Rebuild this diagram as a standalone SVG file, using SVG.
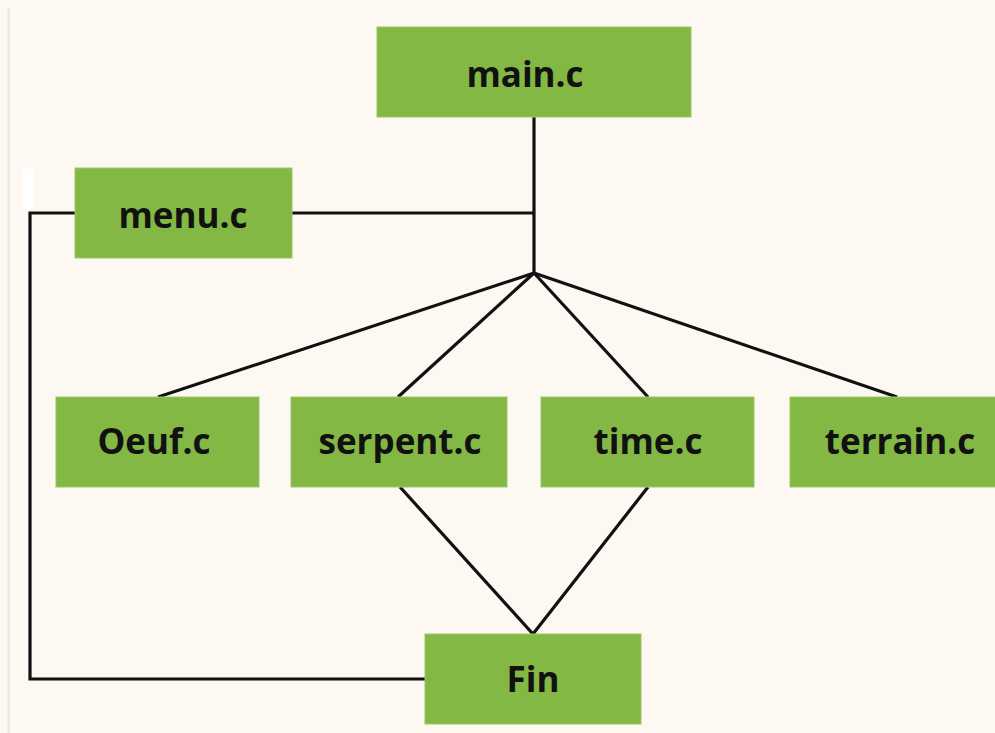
<svg xmlns="http://www.w3.org/2000/svg" width="995" height="733" viewBox="0 0 995 733">
  <style>
    .node rect { fill: #82B843; stroke: #9CC86A; stroke-width: 1; }
    .node text { font-family: "Open Sans", "Noto Sans", "DejaVu Sans", sans-serif; font-weight: bold; font-size: 35px; fill: #111; text-anchor: middle; dominant-baseline: central; }
    .edges path { fill: none; stroke: #111; stroke-width: 3.2; stroke-linejoin: miter; }
  </style>
  <rect x="0" y="0" width="995" height="733" fill="#FDF8F2"/>
  <!-- page margin rule -->
  <line x1="8.5" y1="8" x2="8.5" y2="733" stroke="#E6E4E4" stroke-width="2"/>
  <rect x="22" y="168" width="12" height="42" rx="6" fill="#FFFFFF"/>

  <g class="edges" id="connectors">
    <path d="M534 117 V273"/>
    <path d="M292 213 H534"/>
    <path d="M534 273 L158 397"/>
    <path d="M534 273 L398 397"/>
    <path d="M534 273 L648 397"/>
    <path d="M534 273 L897 397"/>
    <path d="M400 487 L533 634 L648 487"/>
    <path d="M75 213 H30 V679 H425"/>
  </g>

  <g class="node" id="main">
    <rect x="377" y="27" width="314" height="90"/>
    <text x="525" y="73">main.c</text>
  </g>
  <g class="node" id="menu">
    <rect x="75" y="168" width="217" height="90"/>
    <text x="183" y="214">menu.c</text>
  </g>
  <g class="node" id="oeuf">
    <rect x="56" y="397" width="203" height="90"/>
    <text x="154" y="440">Oeuf.c</text>
  </g>
  <g class="node" id="serpent">
    <rect x="291" y="397" width="216" height="90"/>
    <text x="400" y="440">serpent.c</text>
  </g>
  <g class="node" id="time">
    <rect x="541" y="397" width="213" height="90"/>
    <text x="648" y="440">time.c</text>
  </g>
  <g class="node" id="terrain">
    <rect x="790" y="397" width="210" height="90"/>
    <text x="900" y="440">terrain.c</text>
  </g>
  <g class="node" id="fin">
    <rect x="425" y="634" width="216" height="90"/>
    <text x="533" y="678">Fin</text>
  </g>
</svg>
